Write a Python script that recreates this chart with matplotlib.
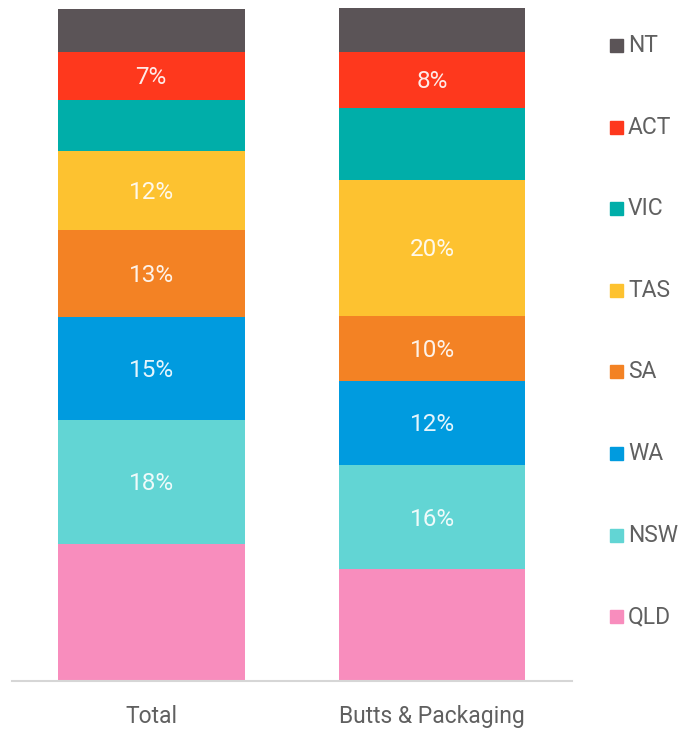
import matplotlib
matplotlib.use("Agg")
import matplotlib.pyplot as plt
from matplotlib.patches import Rectangle
import numpy as np

# data (percent share by state), stacked bottom -> top
categories = ["Total", "Butts & Packaging"]
states = ["QLD", "NSW", "WA", "SA", "TAS", "VIC", "ACT", "NT"]
total = [20.4, 18.4, 15.3, 12.9, 11.7, 7.7, 7.1, 6.4]
butts = [16.6, 15.5, 12.5, 9.7, 20.2, 10.7, 8.3, 6.5]
labelled = ["NSW", "WA", "SA", "TAS", "ACT"]

colors = {
    "QLD": "#f88dbd",
    "NSW": "#62d5d4",
    "WA": "#009bdf",
    "SA": "#f38224",
    "TAS": "#fdc230",
    "VIC": "#00aea9",
    "ACT": "#fe381d",
    "NT": "#5b5457",
}

plt.rcParams["font.family"] = ["Roboto", "DejaVu Sans"]

fig = plt.figure(figsize=(6.79, 7.30), dpi=100)
W, H = 679, 730
ax = fig.add_axes([12 / W, (H - 681) / H, 560 / W, 673 / H])

values = np.array([total, butts])
x = np.arange(len(categories))
bottom = np.zeros(len(categories))
for i, st in enumerate(states):
    v = values[:, i]
    ax.bar(x, v, bottom=bottom, width=0.665, color=colors[st], linewidth=0)
    if st in labelled:
        for j in range(len(x)):
            ax.text(x[j], bottom[j] + v[j] / 2 - 0.3, f"{v[j]:.0f}%", ha="center",
                    va="center", color="white", alpha=0.9, fontsize=17.5)
    bottom += v

ax.set_xlim(-0.495, 1.498)
ax.set_ylim(0, values.sum(axis=1).max())
ax.set_xticks(x)
ax.set_xticklabels(categories, fontsize=16.5, color="#606060")
ax.tick_params(axis="x", length=0, pad=17)
ax.set_yticks([])
for s in ["top", "right", "left"]:
    ax.spines[s].set_visible(False)
ax.spines["bottom"].set_color("#d6d6d6")
ax.spines["bottom"].set_linewidth(1.5)

# legend, drawn by hand: top entry is the top segment
for k, st in enumerate(states[::-1]):
    yc = 45.5 + k * 81.6
    fig.patches.append(Rectangle((610 / W, (H - yc - 6.5) / H), 13 / W, 13 / H,
                                 transform=fig.transFigure, color=colors[st]))
    fig.text(628 / W, (H - yc) / H, st, va="center", ha="left",
             fontsize=16.5, color="#606060")

fig.savefig("out.png", dpi=100)
